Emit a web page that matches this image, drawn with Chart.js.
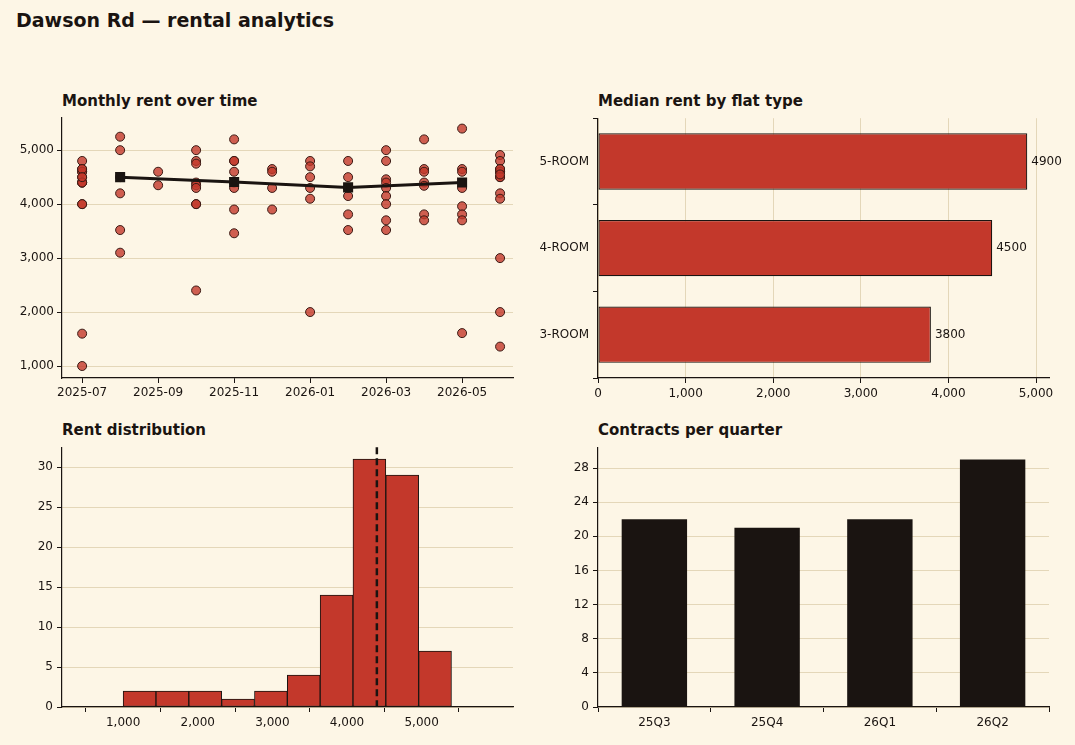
<!DOCTYPE html>
<html><head><meta charset="utf-8">
<script src="https://cdn.jsdelivr.net/npm/chart.js@4"></script>
<style>
body{margin:0;background:#fdf6e6;font-family:"DejaVu Sans",sans-serif;}
#wrap{position:relative;width:1075px;height:745px;}
canvas{position:absolute;}
.t{position:absolute;font-weight:bold;color:#1a1411;}
</style></head><body>
<div id="wrap">
<div class="t" style="left:16px;top:9px;font-size:19px">Dawson Rd — rental analytics</div>
<div class="t" style="left:62px;top:92px;font-size:15px">Monthly rent over time</div>
<div class="t" style="left:598px;top:92px;font-size:15px">Median rent by flat type</div>
<div class="t" style="left:62px;top:421px;font-size:15px">Rent distribution</div>
<div class="t" style="left:598px;top:421px;font-size:15px">Contracts per quarter</div>
<canvas id="c1" style="left:0;top:107px;width:525px;height:301px"></canvas>
<canvas id="c2" style="left:525px;top:107px;width:550px;height:301px"></canvas>
<canvas id="c3" style="left:0;top:436px;width:525px;height:301px"></canvas>
<canvas id="c4" style="left:525px;top:436px;width:550px;height:301px"></canvas>
</div>
<script>
const months = ['2025-07','2025-08','2025-09','2025-10','2025-11','2025-12','2026-01','2026-02','2026-03','2026-04','2026-05','2026-06'];
const rents = [
  [4800,4650,4600,4600,4500,4400,4400,4400,4000,4000,1600,1000,4650,4500],
  [5250,5000,4200,3520,3100,4500],
  [4600,4350],
  [5000,4800,4750,4400,4350,4300,4000,4000,2400],
  [5200,4800,4800,4600,4400,4300,3900,3460],
  [4650,4600,4300,3900],
  [4800,4700,4500,4300,4100,2000],
  [4800,4500,4300,4150,3810,3520,4300],
  [5000,4800,4460,4400,4300,4150,4000,3700,3520],
  [5200,4650,4600,4400,4340,3810,3700],
  [5400,4650,4600,4300,3960,3810,3700,1610],
  [4910,4800,4650,4600,4500,4200,4100,3000,2000,1360,4600,4650,4500,4550]
];
const trendMonths = [1,4,7,10];
const trendValues = [4500,4410,4310,4400];
const flatTypes = ['5-ROOM','4-ROOM','3-ROOM'];
const medianRent = [4900,4500,3800];
const binEdges = [1000,1440,1880,2320,2760,3200,3640,4080,4520,4960,5400];
const binCounts = [2,2,2,1,2,4,14,31,29,7];
const medianLine = 4400;
const quarters = ['25Q3','25Q4','26Q1','26Q2'];
const contracts = [22,21,22,29];

const RED='#c3382b', INK='#1a1411', GRID='#e4d7b9';
Chart.defaults.font.family='"DejaVu Sans", sans-serif';
Chart.defaults.font.size=12;
Chart.defaults.color=INK;
Chart.defaults.animation=false;
Chart.defaults.plugins.legend.display=false;
Chart.defaults.plugins.tooltip.enabled=false;

function axis(extra, withGrid, w, h){
  const a = Object.assign({
    grid:{display:true,color:withGrid?GRID:'transparent',tickColor:INK,tickLength:5,lineWidth:1},
    border:{display:true,color:INK,width:1.2},
    ticks:{color:INK,padding:4}
  }, extra);
  if(w) a.afterFit = s => { s.width = w; };
  if(h) a.afterFit = s => { s.height = h; };
  return a;
}
const pad = r => ({padding:{top:10,right:r,left:0,bottom:0}});

const pts = [];
rents.forEach((arr,i)=>arr.forEach(v=>pts.push({x:i,y:v})));
new Chart(document.getElementById('c1'),{
  type:'scatter',
  data:{datasets:[
    {type:'line',data:trendMonths.map((m,i)=>({x:m,y:trendValues[i]})),borderColor:INK,borderWidth:3,
     pointStyle:'rect',pointRadius:5,pointBackgroundColor:INK,pointBorderColor:INK,order:0},
    {data:pts,pointRadius:4.5,backgroundColor:'rgba(195,56,43,0.8)',borderColor:'#3a1a14',borderWidth:1,order:1}
  ]},
  options:{responsive:false,layout:pad(12),scales:{
    x:axis({type:'linear',min:-0.53,max:11.34,
      afterBuildTicks:s=>{s.ticks=[0,2,4,6,8,10].map(v=>({value:v}));},
      ticks:{color:INK,callback:v=>months[v]}},false,0,30),
    y:axis({min:778,max:5611,afterBuildTicks:s=>{s.ticks=[1000,2000,3000,4000,5000].map(v=>({value:v}));},
      ticks:{color:INK,callback:v=>v.toLocaleString('en-US')}},true,62)
  }}
});

new Chart(document.getElementById('c2'),{
  type:'bar',
  data:{labels:flatTypes,datasets:[{data:medianRent,backgroundColor:RED,borderColor:INK,borderWidth:1.2,
    borderSkipped:false,categoryPercentage:0.65,barPercentage:1}]},
  options:{responsive:false,indexAxis:'y',layout:pad(26),scales:{
    x:axis({min:0,max:5148,afterBuildTicks:s=>{s.ticks=[0,1000,2000,3000,4000,5000].map(v=>({value:v}));}},true,0,30),
    y:axis({},false,73)
  }},
  plugins:[{id:'lbl',afterDatasetsDraw(c){
    const ctx=c.ctx;ctx.save();ctx.fillStyle=INK;ctx.font='12px "DejaVu Sans"';ctx.textBaseline='middle';
    c.getDatasetMeta(0).data.forEach((b,i)=>ctx.fillText(String(medianRent[i]),b.x+4,b.y));
    ctx.restore();}}]
});

new Chart(document.getElementById('c3'),{
  type:'bar',
  data:{datasets:[{data:binCounts.map((n,i)=>({x:(binEdges[i]+binEdges[i+1])/2,y:n})),
    backgroundColor:RED,borderColor:INK,borderWidth:1,borderSkipped:false,categoryPercentage:1,barPercentage:1}]},
  options:{responsive:false,layout:pad(12),scales:{
    x:axis({type:'linear',min:785,max:5620,afterBuildTicks:s=>{s.ticks=[1000,2000,3000,4000,5000].map(v=>({value:v}));}},false,0,30),
    y:axis({min:0,max:32.5,afterBuildTicks:s=>{s.ticks=[0,5,10,15,20,25,30].map(v=>({value:v}));}},true,62)
  }},
  plugins:[{id:'med',afterDatasetsDraw(c){
    const ctx=c.ctx,x=c.scales.x.getPixelForValue(medianLine),a=c.chartArea;
    ctx.save();ctx.strokeStyle=INK;ctx.lineWidth=2.5;ctx.setLineDash([7,4]);
    ctx.beginPath();ctx.moveTo(x,a.top);ctx.lineTo(x,a.bottom);ctx.stroke();ctx.restore();}}]
});

new Chart(document.getElementById('c4'),{
  type:'bar',
  data:{labels:quarters,datasets:[{data:contracts,backgroundColor:INK,categoryPercentage:0.58,barPercentage:1}]},
  options:{responsive:false,layout:pad(26),scales:{
    x:axis({},false,0,30),
    y:axis({min:0,max:30.45,afterBuildTicks:s=>{s.ticks=[0,4,8,12,16,20,24,28].map(v=>({value:v}));}},true,73)
  }}
});
</script>
</body></html>
